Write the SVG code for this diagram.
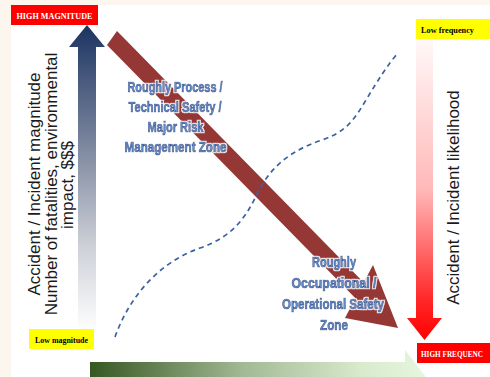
<svg xmlns="http://www.w3.org/2000/svg" width="490" height="377" viewBox="0 0 490 377">
<defs>
<linearGradient id="gBlue" gradientUnits="userSpaceOnUse" x1="0" y1="25" x2="0" y2="332">
<stop offset="0" stop-color="#1c3461"/>
<stop offset="0.45" stop-color="#8a93a8"/>
<stop offset="0.72" stop-color="#cdd0d7"/>
<stop offset="1" stop-color="#ffffff"/>
</linearGradient>
<linearGradient id="gRed" gradientUnits="userSpaceOnUse" x1="0" y1="40" x2="0" y2="340">
<stop offset="0" stop-color="#fff8f8"/>
<stop offset="0.5" stop-color="#ffb8b8"/>
<stop offset="0.86" stop-color="#ff2a2a"/>
<stop offset="1" stop-color="#ff0000"/>
</linearGradient>
<linearGradient id="gGreen" gradientUnits="userSpaceOnUse" x1="90" y1="0" x2="430" y2="0">
<stop offset="0" stop-color="#365722"/>
<stop offset="0.45" stop-color="#a2b995"/>
<stop offset="0.8" stop-color="#d8ebcd"/>
<stop offset="1" stop-color="#e8f6df"/>
</linearGradient>
<filter id="glow" x="-10%" y="-30%" width="120%" height="160%">
<feMorphology in="SourceAlpha" operator="dilate" radius="1.2" result="d"/>
<feFlood flood-color="#ffffff" flood-opacity="0.9"/>
<feComposite in2="d" operator="in" result="halo"/>
<feMerge><feMergeNode in="halo"/><feMergeNode in="SourceGraphic"/></feMerge>
</filter>
</defs>
<style>
.lbl{font-family:"Liberation Serif","Times New Roman",serif;font-weight:bold;font-size:9px}
.axis{font-family:"Liberation Sans",Arial,sans-serif;font-size:17px;fill:#1a1a1a}
.zone{font-family:"Liberation Sans",Arial,sans-serif;font-weight:bold;font-size:14px;fill:#6790cb;stroke:#234f92;stroke-width:0.7;text-anchor:middle}
</style>
<rect x="0" y="0" width="490" height="377" fill="#fdf6ee"/>
<rect x="11" y="5" width="479" height="372" fill="#ffffff"/>

<g id="connectors">
<polygon id="magnitude-arrow" points="78,330 78,47 69,47 87,25 105,47 96,47 96,330" fill="url(#gBlue)"/>
<polygon id="likelihood-arrow" points="416,40 433,40 433,318 442,318 424.5,340 407,318 416,318" fill="url(#gRed)"/>
<polygon id="frequency-arrow" points="90,362 405,362 405,350 440,395 405,440 90,440" fill="url(#gGreen)"/>
<polygon id="zone-arrow" points="107,45 117,31 363.7,282.6 373,265 398,328 345,318 355.4,298.3" fill="#953735"/>
<path id="trend-curve" d="M115,337 C130,295 160,262 200,248 C232,237 246,218 258,192 C272,165 292,150 322,140 C345,132 353,122 366,100 C378,80 389,63 398,53" fill="none" stroke="#3b62a0" stroke-width="1.7" stroke-dasharray="5,4"/>
</g>

<g id="high-magnitude">
<rect x="11" y="5" width="87" height="20" fill="#ff0000"/>
<text class="lbl" x="54.5" y="18.5" fill="#ffffff" text-anchor="middle" textLength="76" lengthAdjust="spacingAndGlyphs">HIGH MAGNITUDE</text>
</g>
<g id="low-magnitude">
<rect x="29" y="329" width="65" height="20" fill="#ffff00"/>
<text class="lbl" x="61.5" y="342.5" fill="#000000" text-anchor="middle" textLength="53" lengthAdjust="spacingAndGlyphs">Low magnitude</text>
</g>
<g id="low-frequency">
<rect x="416" y="19" width="74" height="20" fill="#ffff00"/>
<text class="lbl" x="421" y="32.5" fill="#000000" textLength="53" lengthAdjust="spacingAndGlyphs">Low frequency</text>
</g>
<g id="high-frequency">
<rect x="417" y="343" width="73" height="20" fill="#ff0000"/>
<text class="lbl" x="421" y="357" fill="#ffffff" textLength="62" lengthAdjust="spacingAndGlyphs">HIGH FREQUENC</text>
</g>

<g id="magnitude-label" class="axis" text-anchor="middle">
<text transform="translate(39.5,184) rotate(-90)">Accident / Incident magnitude</text>
<text transform="translate(56.5,184) rotate(-90)">Number of fatalities, environmental</text>
<text transform="translate(73,185) rotate(-90)">impact, $$$</text>
</g>
<g id="likelihood-label" class="axis" text-anchor="middle">
<text transform="translate(459,197.5) rotate(-90)">Accident / Incident likelihood</text>
</g>

<g id="process-zone" filter="url(#glow)">
<text class="zone" x="175" y="92" textLength="95" lengthAdjust="spacingAndGlyphs">Roughly Process /</text>
<text class="zone" x="175" y="112" textLength="93" lengthAdjust="spacingAndGlyphs">Technical Safety /</text>
<text class="zone" x="175.5" y="132" textLength="56" lengthAdjust="spacingAndGlyphs">Major Risk</text>
<text class="zone" x="175.5" y="152" textLength="102" lengthAdjust="spacingAndGlyphs">Management Zone</text>
</g>
<g id="occupational-zone" filter="url(#glow)">
<text class="zone" x="334" y="267" textLength="44" lengthAdjust="spacingAndGlyphs">Roughly</text>
<text class="zone" x="334" y="288" textLength="85" lengthAdjust="spacingAndGlyphs">Occupational  /</text>
<text class="zone" x="333" y="309" textLength="102" lengthAdjust="spacingAndGlyphs">Operational Safety</text>
<text class="zone" x="334" y="330" textLength="28" lengthAdjust="spacingAndGlyphs">Zone</text>
</g>
</svg>
